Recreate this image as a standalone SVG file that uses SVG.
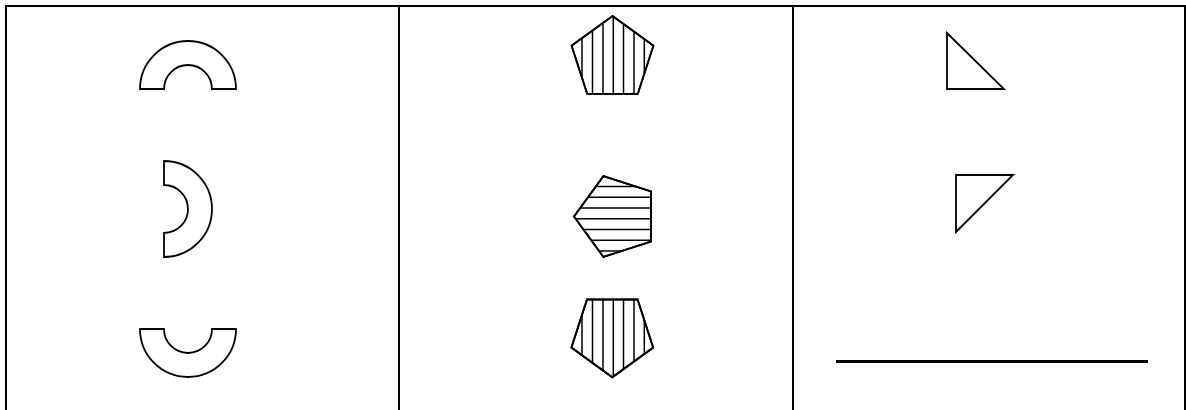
<svg xmlns="http://www.w3.org/2000/svg" width="1186" height="410" viewBox="0 0 1186 410">
  <style>
    .grid { stroke: #000; stroke-width: 2; fill: none; }
    .shape { stroke: #000; stroke-width: 1.8; fill: #fff; stroke-linejoin: miter; }
    .outline { stroke: #000; stroke-width: 1.8; fill: none; }
    .hatch { stroke: #000; stroke-width: 1.5; }
  </style>
  <defs>
    <clipPath id="c1"><polygon points="612.5,16 653.4,45.7 637.8,93.8 587.2,93.8 571.6,45.7"/></clipPath>
    <clipPath id="c2"><polygon points="574,216.5 603.4,176.1 650.9,191.5 650.9,241.5 603.4,256.9"/></clipPath>
    <clipPath id="c3"><polygon points="587,299.5 637.6,299.5 653.2,347.6 612.3,377.3 571.4,347.6"/></clipPath>
  </defs>
  <rect width="1186" height="410" fill="#fff"/>
  <g id="table">
    <line class="grid" x1="5" y1="6" x2="1186" y2="6"/>
    <line class="grid" x1="6" y1="5" x2="6" y2="410"/>
    <line class="grid" x1="399" y1="5" x2="399" y2="410"/>
    <line class="grid" x1="793" y1="5" x2="793" y2="410"/>
    <line class="grid" x1="1185" y1="5" x2="1185" y2="410"/>
  </g>
  <g id="arch-up">
    <path class="shape" d="M140,89 A48,48 0 0 1 236,89 L212,89 A24,24 0 0 0 164,89 Z"/>
  </g>
  <g id="arch-right">
    <path class="shape" d="M164,161 A48,48 0 0 1 164,257 L164,233 A24,24 0 0 0 164,185 Z"/>
  </g>
  <g id="arch-down">
    <path class="shape" d="M140,329 A48,48 0 0 0 236,329 L212,329 A24,24 0 0 1 164,329 Z"/>
  </g>
  <g id="pentagon-up">
    <polygon class="shape" points="612.5,16 653.4,45.7 637.8,93.8 587.2,93.8 571.6,45.7"/>
    <g clip-path="url(#c1)">
      <line class="hatch" x1="582" y1="10" x2="582" y2="100"/>
      <line class="hatch" x1="592.5" y1="10" x2="592.5" y2="100"/>
      <line class="hatch" x1="603" y1="10" x2="603" y2="100"/>
      <line class="hatch" x1="613.3" y1="10" x2="613.3" y2="100"/>
      <line class="hatch" x1="623.5" y1="10" x2="623.5" y2="100"/>
      <line class="hatch" x1="634" y1="10" x2="634" y2="100"/>
      <line class="hatch" x1="644.3" y1="10" x2="644.3" y2="100"/>
    </g>
    <polygon class="outline" points="612.5,16 653.4,45.7 637.8,93.8 587.2,93.8 571.6,45.7"/>
  </g>
  <g id="pentagon-left">
    <polygon class="shape" points="574,216.5 603.4,176.1 650.9,191.5 650.9,241.5 603.4,256.9"/>
    <g clip-path="url(#c2)">
      <line class="hatch" x1="570" y1="186.5" x2="660" y2="186.5"/>
      <line class="hatch" x1="570" y1="197.25" x2="660" y2="197.25"/>
      <line class="hatch" x1="570" y1="208" x2="660" y2="208"/>
      <line class="hatch" x1="570" y1="218.75" x2="660" y2="218.75"/>
      <line class="hatch" x1="570" y1="229.5" x2="660" y2="229.5"/>
      <line class="hatch" x1="570" y1="240.25" x2="660" y2="240.25"/>
      <line class="hatch" x1="570" y1="251" x2="660" y2="251"/>
    </g>
    <polygon class="outline" points="574,216.5 603.4,176.1 650.9,191.5 650.9,241.5 603.4,256.9"/>
  </g>
  <g id="pentagon-down">
    <polygon class="shape" points="587,299.5 637.6,299.5 653.2,347.6 612.3,377.3 571.4,347.6"/>
    <g clip-path="url(#c3)">
      <line class="hatch" x1="582" y1="295" x2="582" y2="380"/>
      <line class="hatch" x1="592.5" y1="295" x2="592.5" y2="380"/>
      <line class="hatch" x1="603" y1="295" x2="603" y2="380"/>
      <line class="hatch" x1="613.3" y1="295" x2="613.3" y2="380"/>
      <line class="hatch" x1="623.5" y1="295" x2="623.5" y2="380"/>
      <line class="hatch" x1="634" y1="295" x2="634" y2="380"/>
      <line class="hatch" x1="644.3" y1="295" x2="644.3" y2="380"/>
    </g>
    <polygon class="outline" points="587,299.5 637.6,299.5 653.2,347.6 612.3,377.3 571.4,347.6"/>
  </g>
  <g id="triangle-1">
    <polygon class="shape" points="947,33 947,89 1004,89"/>
  </g>
  <g id="triangle-2">
    <polygon class="shape" points="956,175 1013,175 956,232"/>
  </g>
  <g id="line-3">
    <line x1="836" y1="361.5" x2="1148" y2="361.5" stroke="#000" stroke-width="3"/>
  </g>
</svg>
